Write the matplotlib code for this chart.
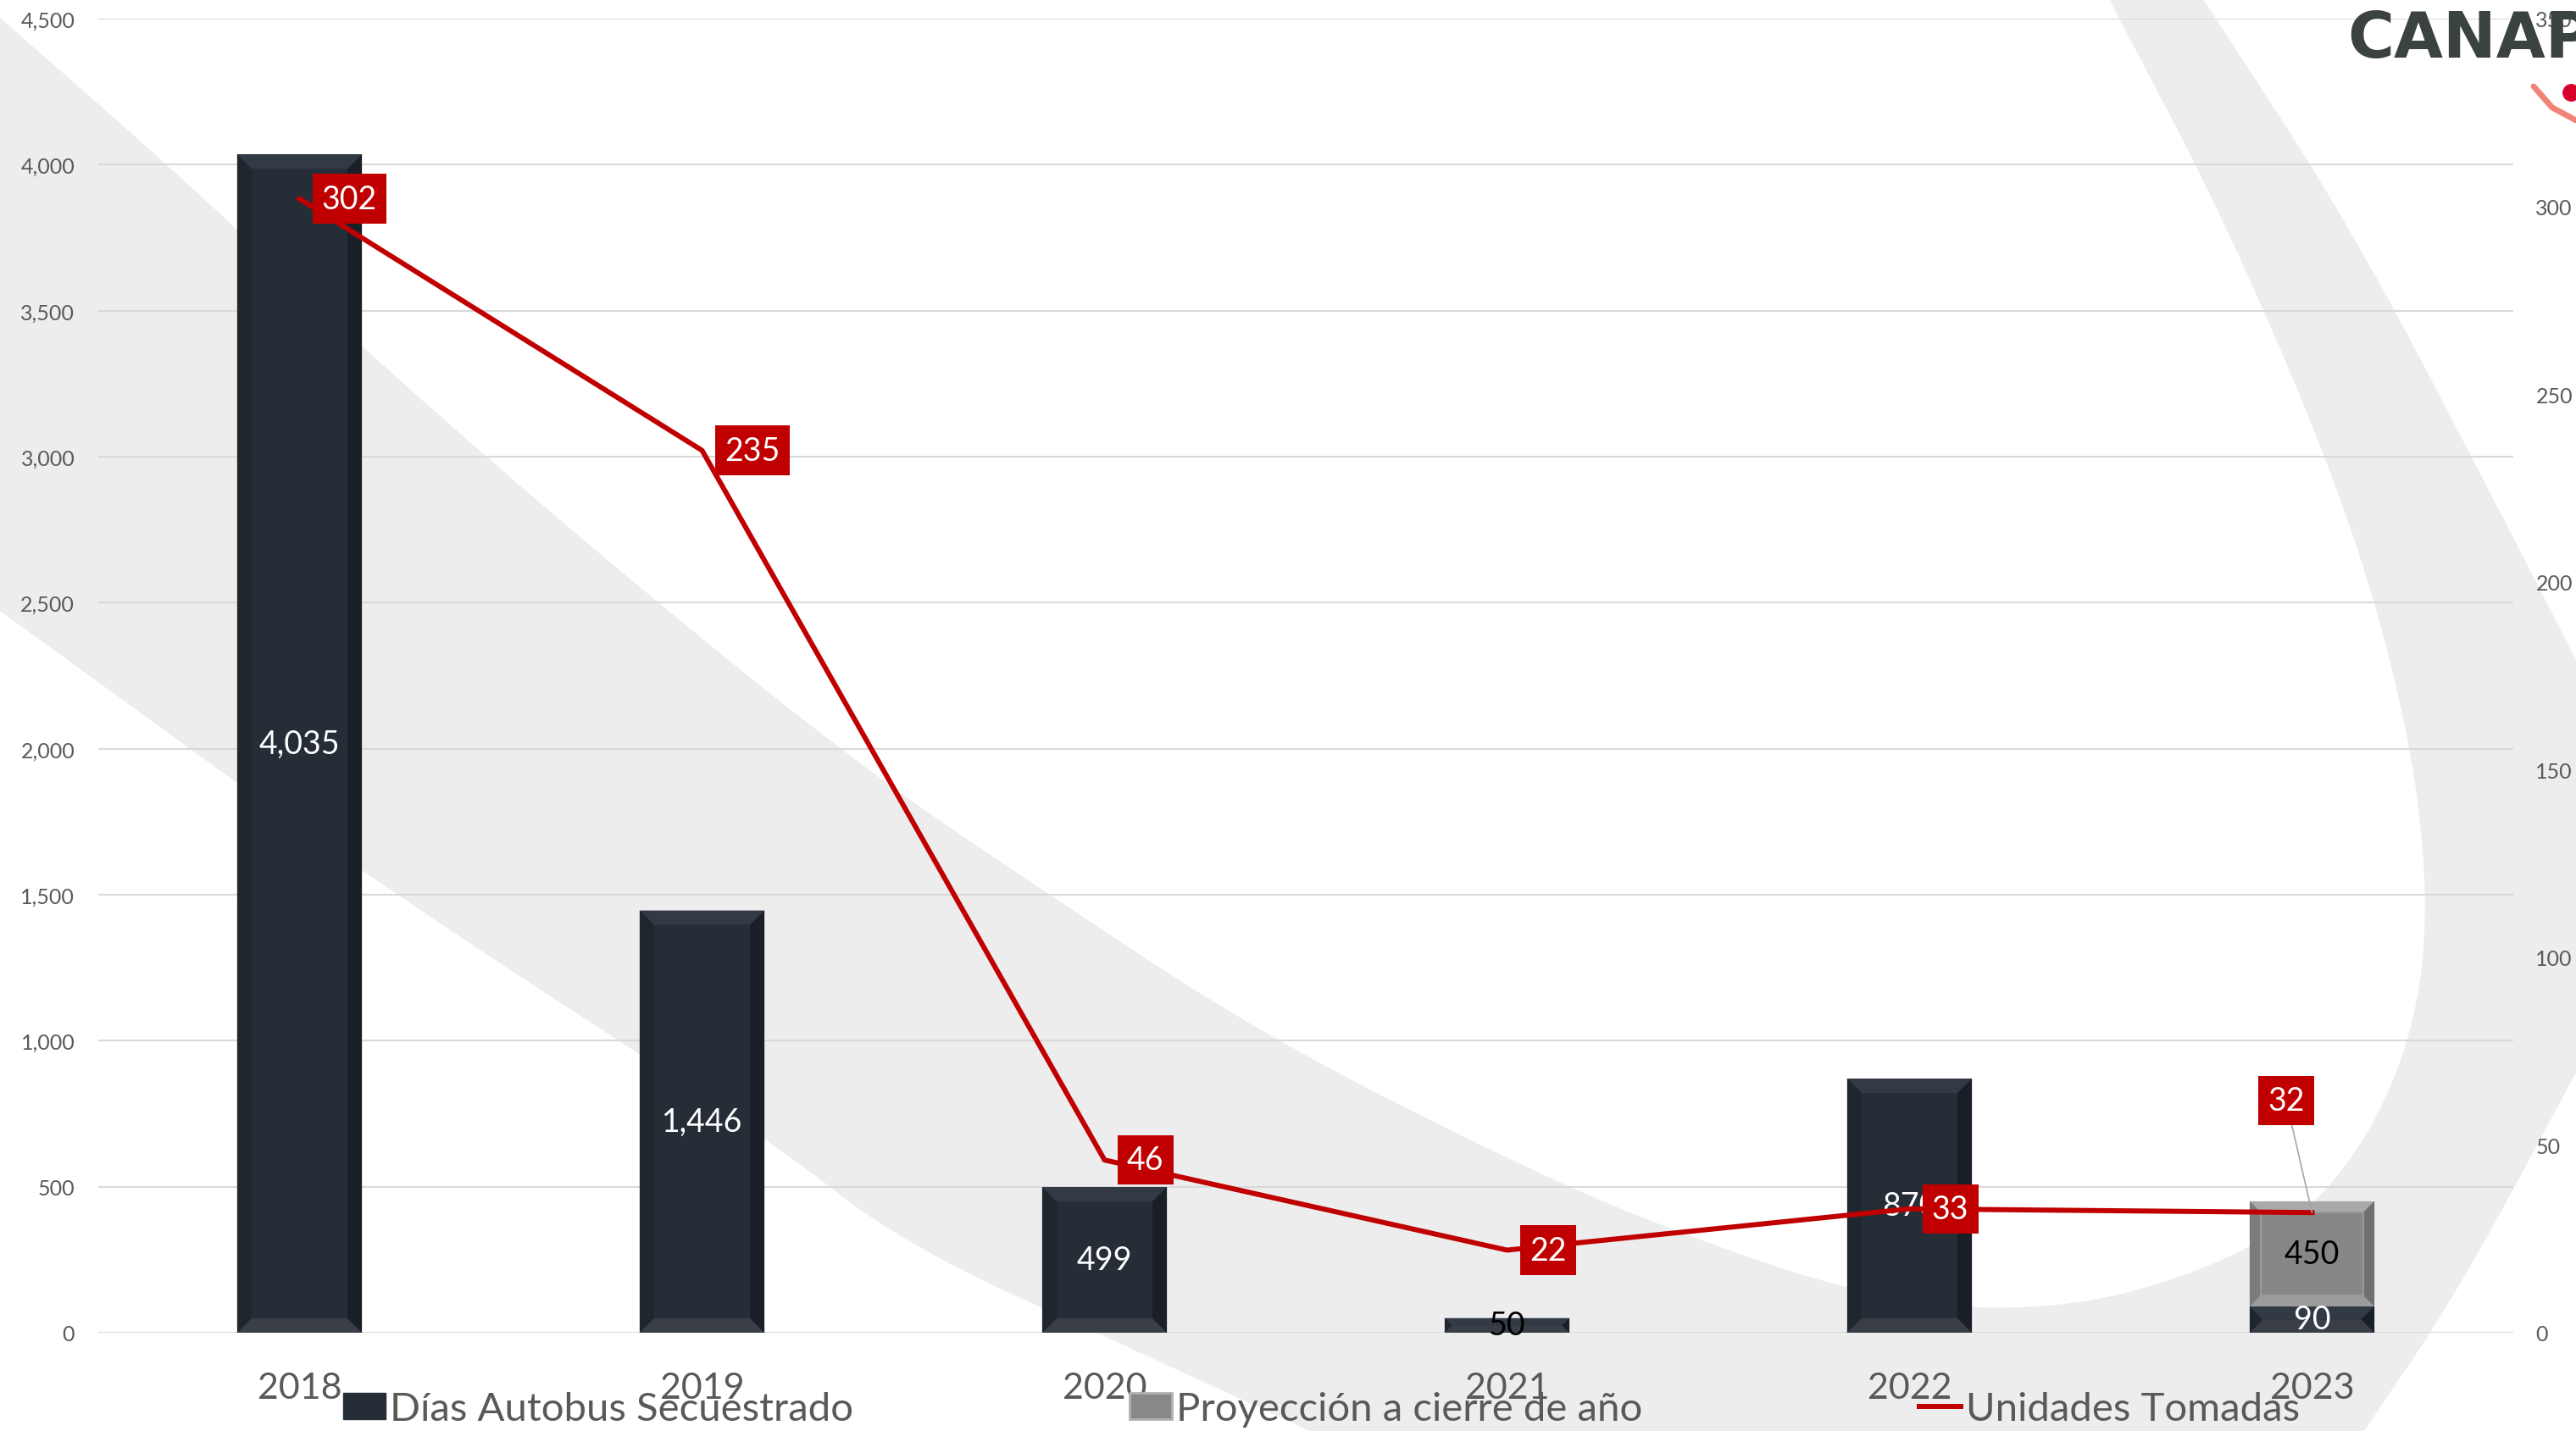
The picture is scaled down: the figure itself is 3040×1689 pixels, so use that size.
import matplotlib
matplotlib.use('Agg')
import matplotlib.pyplot as plt
from matplotlib.patches import Polygon, Patch, Rectangle
from matplotlib.lines import Line2D
from matplotlib.transforms import IdentityTransform
from matplotlib.ticker import MultipleLocator, StrMethodFormatter

plt.rcParams['font.family'] = ['Lato', 'DejaVu Sans']

# ---- data ----
years = ['2018', '2019', '2020', '2021', '2022', '2023']
dias = [4035, 1446, 499, 50, 870, 90]          # Días Autobus Secuestrado
proyeccion_2023 = 450                            # Proyección a cierre de año
unidades = [302, 235, 46, 22, 33, 32]            # Unidades Tomadas

W, H = 3040, 1690
fig = plt.figure(figsize=(W / 100, H / 100), dpi=100)
fig.patch.set_facecolor('white')


def smooth(pts, n=4):
    # corner cutting, keeps the two end points
    for _ in range(n):
        out = [pts[0]]
        for (xa, ya), (xb, yb) in zip(pts[:-1], pts[1:]):
            out.append((0.75 * xa + 0.25 * xb, 0.75 * ya + 0.25 * yb))
            out.append((0.25 * xa + 0.75 * xb, 0.25 * ya + 0.75 * yb))
        out.append(pts[-1])
        pts = out
    return pts


# background swoosh (figure pixel coords, y from top)
inner = [(0, 22), (220, 215), (431, 415), (700, 650), (1007, 900), (1236, 1056),
         (1489, 1222), (1776, 1368), (1948, 1444), (2178, 1525), (2350, 1550),
         (2522, 1530), (2701, 1455), (2795, 1347), (2852, 1207), (2866, 1056),
         (2843, 862), (2772, 604), (2630, 269), (2489, 0)]
outer_r = [(2600, 0), (2775, 269), (2950, 604), (3040, 780)]
outer_b = [(3040, 1267), (2900, 1527), (2790, 1690)]
outer_l = [(1546, 1690), (1340, 1595), (1064, 1469), (904, 1342), (431, 1035), (0, 722)]
pts = smooth(inner) + smooth(outer_r) + smooth(outer_b) + smooth(outer_l)
pts = [(x / W, 1 - y / H) for x, y in pts]
fig.add_artist(Polygon(pts, closed=True, fc='#ededed', ec='none',
                       transform=fig.transFigure, zorder=-5))

ax = fig.add_axes([116 / W, 1 - 1574 / H, (2966 - 116) / W, 1551 / H])
ax.patch.set_visible(False)
ax2 = ax.twinx()
ax2.patch.set_visible(False)

x = list(range(len(years)))
bw = 0.31
dark = '#252d37'
bars = ax.bar(x, dias, width=bw, color=dark, zorder=2)
gray = ax.bar(x[-1], proyeccion_2023 - dias[-1], bottom=dias[-1], width=bw,
              color='#878787', zorder=2)

ax.set_xlim(-0.5, len(years) - 0.5)
ax.set_ylim(0, 4500)
ax2.set_ylim(0, 350)
ax.yaxis.set_major_locator(MultipleLocator(500))
ax.yaxis.set_major_formatter(StrMethodFormatter('{x:,.0f}'))
ax2.yaxis.set_major_locator(MultipleLocator(50))
ax.set_xticks(x)
ax.set_xticklabels(years)
ax.grid(axis='y', color='#d9d9d9', lw=1.5)
ax.set_axisbelow(True)
for a in (ax, ax2):
    for s in a.spines.values():
        s.set_visible(False)
ax.tick_params(axis='y', length=0, pad=20, labelsize=18, labelcolor='#595959')
ax2.tick_params(axis='y', length=0, pad=19, labelsize=18, labelcolor='#595959')
ax.tick_params(axis='x', length=0, pad=33, labelsize=31, labelcolor='#595959')

# bar labels
lbls = ax.bar_label(bars, labels=[f'{v:,}' for v in dias], label_type='center',
                    color='white', fontsize=27, zorder=4)
lbls[3].set_color('black')
ax.bar_label(gray, labels=[f'{proyeccion_2023:,}'], label_type='center',
             color='black', fontsize=27, zorder=4)

# line
ax2.plot(x, unidades, color='#c00000', lw=4.3, zorder=3)
box = dict(boxstyle='square,pad=0.3', fc='#c00000', ec='none')
for i, v in enumerate(unidades):
    if i < len(unidades) - 1:
        ax2.annotate(str(v), (i, v), xytext=(19, 0), textcoords='offset points',
                     ha='left', va='center', color='white', fontsize=27, bbox=box)
    else:
        ax2.annotate(str(v), (i, v), xytext=(-22, 95), textcoords='offset points',
                     ha='center', va='center', color='white', fontsize=27, bbox=box,
                     arrowprops=dict(arrowstyle='-', color='#a6a6a6', lw=1.2,
                                     shrinkA=0, shrinkB=0))

# legend
handles = [Patch(fc=dark, ec=dark),
           Patch(fc='#888888', ec='#b0b0b0', lw=2),
           Line2D([], [], color='#c00000', lw=4.3)]
labels = ['Días Autobus Secuestrado', 'Proyección a cierre de año', 'Unidades Tomadas']
fig.legend(handles, labels, loc='center', bbox_to_anchor=(0.513, 1 - 1664 / H),
           ncol=3, frameon=False, fontsize=34, labelcolor='#595959',
           handlelength=1.05, handleheight=0.65, handletextpad=0.12,
           columnspacing=6.9, borderpad=0)

# logo
fig.text(2770 / W, 1 - 68 / H, 'CANAPAT', fontsize=54, fontweight='heavy',
         family='DejaVu Sans', color='#3b4341', ha='left', va='baseline', zorder=10)
fig.add_artist(Line2D([2990 / W, 3012 / W, 3040 / W], [1 - 103 / H, 1 - 128 / H, 1 - 143 / H],
                      color='#f08478', lw=5, solid_capstyle='round',
                      transform=fig.transFigure, zorder=10))
fig.add_artist(Line2D([3034 / W], [1 - 110 / H], marker='o', ms=14, color='#d9002b',
                      transform=fig.transFigure, zorder=10))

# bevels on bars
fig.canvas.draw()


def bevel(rect, top, bottom, left, right, b=17):
    x0, y0, x1, y1 = rect.get_window_extent().extents
    b = min(b, (x1 - x0) / 2, (y1 - y0) / 2)
    parts = [([(x0, y1), (x1, y1), (x1 - b, y1 - b), (x0 + b, y1 - b)], top),
             ([(x0, y0), (x1, y0), (x1 - b, y0 + b), (x0 + b, y0 + b)], bottom),
             ([(x0, y0), (x0 + b, y0 + b), (x0 + b, y1 - b), (x0, y1)], left),
             ([(x1, y0), (x1 - b, y0 + b), (x1 - b, y1 - b), (x1, y1)], right)]
    for p, c in parts:
        ax.add_artist(Polygon(p, closed=True, fc=c, ec='none',
                              transform=IdentityTransform(), zorder=2.5))
    return x0, y0, x1, y1, b


for r in bars:
    bevel(r, '#323a45', '#393e47', '#20262e', '#1a1f27')
x0, y0, x1, y1, b = bevel(gray[0], '#a9a9a9', '#9c9c9c', '#7c7c7c', '#707070', b=13)
ax.add_artist(Rectangle((x0 + b, y0 + b), x1 - x0 - 2 * b, y1 - y0 - 2 * b, fill=False,
                        ec='#9a9a9a', lw=1.5, transform=IdentityTransform(), zorder=2.6))

fig.savefig('out.png', dpi=100)
